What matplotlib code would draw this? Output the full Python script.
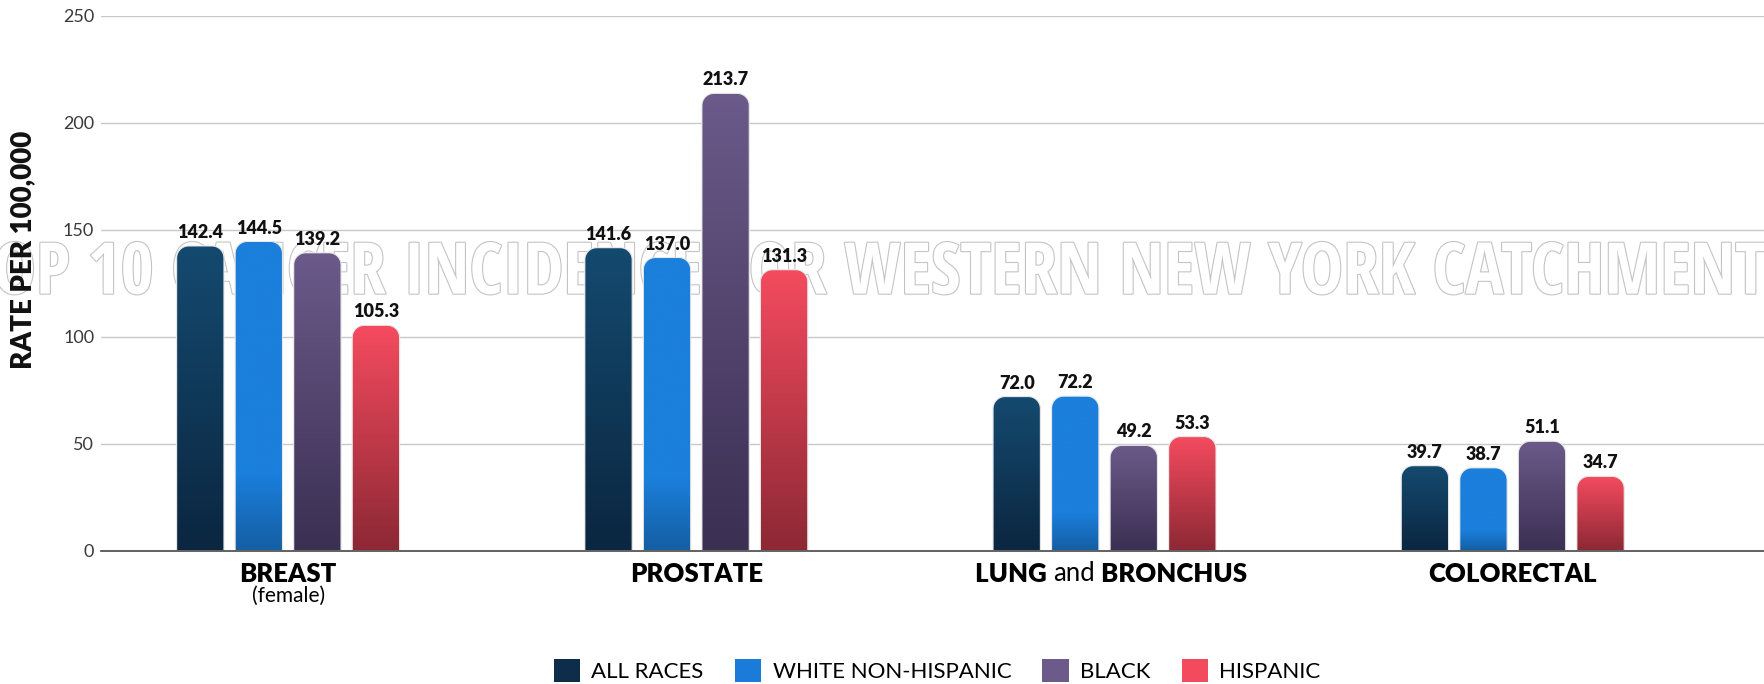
import numpy as np
import matplotlib
matplotlib.use("Agg")
import matplotlib.pyplot as plt
from matplotlib.path import Path
from matplotlib.patches import PathPatch, Patch
from matplotlib.colors import LinearSegmentedColormap
from matplotlib import font_manager as fm
import matplotlib.patheffects as pe

plt.rcParams['font.family'] = ['Lato', 'DejaVu Sans']

# DATA
sites = ["BREAST", "PROSTATE", "LUNG and BRONCHUS", "COLORECTAL"]
groups = ["ALL RACES", "WHITE NON-HISPANIC", "BLACK", "HISPANIC"]
all_races = [142.4, 141.6, 72.0, 39.7]
white_nh = [144.5, 137.0, 72.2, 38.7]
black = [139.2, 213.7, 49.2, 51.1]
hispanic = [105.3, 131.3, 53.3, 34.7]
yticks = [0, 50, 100, 150, 200, 250]
title = "TOP 10 CANCER INCIDENCE FOR WESTERN NEW YORK CATCHMENT AREA"

series = [all_races, white_nh, black, hispanic]
# (top colour, bottom colour, legend colour)
grads = [("#144a6f", "#0b2640", "#0d2d4a"),
         ("#1b7fdc", "#145ea3", "#1a7bd9"),
         ("#6b5a8a", "#3b2f52", "#6b5a8a"),
         ("#f54b5f", "#8c2834", "#f44a5e")]


# pick a condensed bold face for the big outlined title
def condensed_bold():
    fl = fm.fontManager.ttflist
    for name in ["Liberation Sans Narrow", "Open Sans Condensed", "Roboto Condensed", "DejaVu Sans"]:
        for f in fl:
            w = f.weight if isinstance(f.weight, int) else 700 if 'bold' in str(f.weight) else 400
            if f.name == name and w >= 600 and (name != "DejaVu Sans" or 'condensed' in str(f.stretch)):
                return fm.FontProperties(fname=f.fname)
    return fm.FontProperties(family='Lato', weight='bold')


fig = plt.figure(figsize=(17.65, 6.84), dpi=100)
ax = fig.add_axes([0.0573, 0.195, 0.9427, 0.782])
ax.set_xlim(-0.458, 3.618)
ax.set_ylim(0, 250)
ax.set_facecolor('none')
ax.set_zorder(1)

# big outlined title behind the chart, fitted to the width seen in the reference
fp = condensed_bold()
fp.set_size(40)
wm = fig.text(0.5354, 0.597, title, ha='center', va='center', fontproperties=fp,
              color='white', zorder=0.5,
              path_effects=[pe.withStroke(linewidth=1.6, foreground='#c4c4c4')])
fig.canvas.draw()
wpx = wm.get_window_extent().width
fp.set_size(40 * 1960 / wpx)
wm.set_fontproperties(fp)

x = np.arange(len(sites))
width = 0.116
step = 0.1434

# pixel -> data sizes for rounded corners
bb = ax.get_window_extent()
rx = 12 * (ax.get_xlim()[1] - ax.get_xlim()[0]) / bb.width
ry = 12 * 250 / bb.height


def rounded_top(x0, w, h):
    verts = [(x0, 0)]
    cx, cy = x0 + rx, h - ry
    for a in np.linspace(np.pi, np.pi / 2, 12):
        verts.append((cx + rx * np.cos(a), cy + ry * np.sin(a)))
    cx = x0 + w - rx
    for a in np.linspace(np.pi / 2, 0, 12):
        verts.append((cx + rx * np.cos(a), cy + ry * np.sin(a)))
    verts.append((x0 + w, 0))
    verts.append((x0, 0))
    codes = [Path.MOVETO] + [Path.LINETO] * (len(verts) - 2) + [Path.CLOSEPOLY]
    return Path(verts, codes)


for i, (vals, (top, bot, _)) in enumerate(zip(series, grads)):
    bars = ax.bar(x + (i - 1.5) * step, vals, width, color='none', zorder=2)
    if i == 1:
        cmap = LinearSegmentedColormap.from_list("g", [(0, bot), (0.25, top), (1, top)])
    else:
        cmap = LinearSegmentedColormap.from_list("g", [bot, top])
    for b, v in zip(bars, vals):
        x0, w, h = b.get_x(), b.get_width(), b.get_height()
        grad = np.linspace(0, 1, 256).reshape(-1, 1)
        im = ax.imshow(grad, cmap=cmap, origin='lower', aspect='auto',
                       extent=[x0, x0 + w, 0, h], zorder=2)
        clip = PathPatch(rounded_top(x0, w, h), transform=ax.transData,
                         facecolor='none', edgecolor='#e6e6e6', lw=0.8, zorder=2.1)
        ax.add_patch(clip)
        im.set_clip_path(clip)
        ax.text(x0 + w / 2, h + 2.3, f"{v:.1f}", ha='center', va='bottom',
                fontsize=13, fontweight='heavy', color='#111111', zorder=3)

ax.set_xlim(-0.458, 3.618)
ax.set_ylim(0, 250)

# axes styling
ax.set_yticks(yticks)
ax.set_yticklabels([str(t) for t in yticks], fontsize=13, color='#3a3a3a')
ax.tick_params(axis='y', length=0, pad=5)
ax.set_xticks([])
ax.grid(axis='y', color='#c8c8c8', lw=1)
ax.set_axisbelow(True)
for s in ['top', 'right', 'left']:
    ax.spines[s].set_visible(False)
ax.spines['bottom'].set_color('#555555')
ax.spines['bottom'].set_linewidth(1.3)
ax.spines['bottom'].set_zorder(3)

ax.set_ylabel("RATE PER 100,000", fontsize=20, fontweight='heavy', color='#111111')
ax.yaxis.set_label_coords(-0.039, 0.562)

# category labels
ylab = -0.043
for xi, name in zip(x, sites):
    if name == "LUNG and BRONCHUS":
        t_and = ax.text(xi - 0.075, ylab, "and", transform=ax.get_xaxis_transform(),
                        ha='center', va='center', fontsize=18.5)
        ax.annotate("LUNG ", xy=(0, 0), xycoords=t_and, ha='right', va='bottom',
                    fontsize=18.5, fontweight='heavy', annotation_clip=False)
        ax.annotate(" BRONCHUS", xy=(1, 0), xycoords=t_and, ha='left', va='bottom',
                    fontsize=18.5, fontweight='heavy', annotation_clip=False)
    else:
        ax.text(xi, ylab, name, transform=ax.get_xaxis_transform(), ha='center', va='center',
                fontsize=18.5, fontweight='heavy')
ax.text(x[0], -0.085, "(female)", transform=ax.get_xaxis_transform(), ha='center', va='center',
        fontsize=15)

# legend
handles = [Patch(facecolor=c[2], edgecolor='none') for c in grads]
fig.legend(handles, groups, loc='center', bbox_to_anchor=(0.531, 0.02), ncol=4, frameon=False,
           fontsize=16, handlelength=1.2, handleheight=1.2, columnspacing=1.4, handletextpad=0.5)

fig.savefig("out.png", dpi=100)
